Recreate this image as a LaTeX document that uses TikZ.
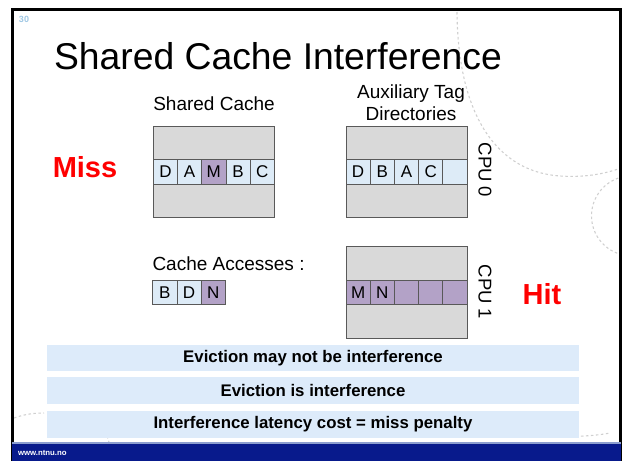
\documentclass[tikz,border=0pt]{standalone}
\usepackage{fontspec}
\setmainfont{Liberation Sans}
\usetikzlibrary{positioning}

\definecolor{cellblue}{RGB}{221,235,247}
\definecolor{cellpurple}{RGB}{179,162,199}
\definecolor{boxgray}{RGB}{217,217,217}
\definecolor{edgegray}{RGB}{89,89,89}
\definecolor{bannerblue}{RGB}{221,235,250}
\definecolor{footnavy}{RGB}{8,26,140}
\definecolor{footline}{RGB}{140,158,208}
\definecolor{pagenum}{RGB}{160,200,228}
\definecolor{decogray}{RGB}{208,208,208}
\definecolor{hitred}{RGB}{255,0,0}

\begin{document}
\begin{tikzpicture}[x=1pt,y=-1pt,
  every node/.style={inner sep=0pt, outer sep=0pt},
  tagbox/.style={draw=edgegray, line width=0.8pt, fill=boxgray,
    minimum width=121pt, minimum height=91.5pt, anchor=north west},
  cellb/.style={draw=edgegray, line width=0.8pt, fill=cellblue,
    minimum width=24.2pt, minimum height=24.6pt,
    font=\fontsize{17}{17}\selectfont},
  cellp/.style={cellb, fill=cellpurple},
  label/.style={font=\fontsize{19}{22}\selectfont, anchor=base},
  verdict/.style={font=\fontsize{29}{30}\selectfont\bfseries, text=hitred, anchor=base},
  cpu/.style={font=\fontsize{18.5}{20}\selectfont, rotate=-90},
  banner/.style={fill=bannerblue, minimum width=532pt, minimum height=26.5pt,
    font=\fontsize{16.8}{18}\selectfont\bfseries},
  deco/.style={draw=decogray, line width=1.1pt, dash pattern=on 2.5pt off 2.5pt}
]
\useasboundingbox (0,0) rectangle (622,461);

% background ornaments of the slide template
\begin{scope}
  \clip (12,9.5) rectangle (620.5,461);
  \draw[deco] (457,12) .. controls (458,120) and (500,172) .. (560,176)
              .. controls (590,178) and (610,172) .. (624,167);
  \draw[deco] (628,176) arc[start angle=-95, end angle=-265, radius=40];
  \draw[deco] (14,418) .. controls (25,414) and (35,413) .. (44,413);
  \draw[deco] (107,436) .. controls (110,445) and (112,452) .. (115,461);
  \draw[deco] (566,437) .. controls (580,436) and (595,436) .. (610,433);
\end{scope}

% slide frame and footer
\draw[line width=3pt] (12.2,461) -- (12.2,9.5) -- (620.5,9.5) -- (620.5,461);
\fill[footnavy] (12.2,443) rectangle (620.5,461);
\fill[footline] (12.2,442.2) rectangle (620.5,444);
\node[anchor=base west, text=white, font=\fontsize{7.8}{8}\selectfont\bfseries]
  (url) at (18,455) {www.ntnu.no};
\node[anchor=base west, text=pagenum, font=\fontsize{9}{10}\selectfont\bfseries]
  (page) at (19,22) {30};

% title and headings
\node[anchor=base west, font=\fontsize{37.3}{40}\selectfont] (title) at (54,69)
  {Shared Cache Interference};
\node[label] (hsc) at (214,110) {Shared Cache};
\node[label] (haux1) at (411,98) {Auxiliary Tag};
\node[label] (haux2) at (411,120) {Directories};

% shared cache
\node[tagbox] (sc) at (153.3,126) {};
\node[cellb, anchor=west] (sc1) at (sc.west) {D};
\node[cellb, right=0pt of sc1] (sc2) {A};
\node[cellp, right=0pt of sc2] (sc3) {M};
\node[cellb, right=0pt of sc3] (sc4) {B};
\node[cellb, right=0pt of sc4] (sc5) {C};

% auxiliary tag directory, CPU 0
\node[tagbox] (atd0) at (346,126) {};
\node[cellb, anchor=west] (a01) at (atd0.west) {D};
\node[cellb, right=0pt of a01] (a02) {B};
\node[cellb, right=0pt of a02] (a03) {A};
\node[cellb, right=0pt of a03] (a04) {C};
\node[cellb, right=0pt of a04] (a05) {};

% auxiliary tag directory, CPU 1
\node[tagbox] (atd1) at (346,246.5) {};
\node[cellp, anchor=west] (a11) at (atd1.west) {M};
\node[cellp, right=0pt of a11] (a12) {N};
\node[cellp, right=0pt of a12] (a13) {};
\node[cellp, right=0pt of a13] (a14) {};
\node[cellp, right=0pt of a14] (a15) {};

\node[cpu] (cpu0) at (485,170) {CPU 0};
\node[cpu] (cpu1) at (485,292) {CPU 1};

% access sequence
\node[label, anchor=base west] (hacc) at (152.5,270) {Cache Accesses :};
\node[cellb, anchor=north west] (ac1) at (152.7,280) {B};
\node[cellb, right=0pt of ac1] (ac2) {D};
\node[cellp, right=0pt of ac2] (ac3) {N};

% outcomes
\node[verdict] (miss) at (85,177) {Miss};
\node[verdict] (hit) at (542,304) {Hit};

% conclusions
\node[banner, anchor=north west] (b1) at (47,344.5) {Eviction may not be interference};
\node[banner, anchor=north west] (b2) at (47,377) {Eviction is interference};
\node[banner, anchor=north west] (b3) at (47,411) {Interference latency cost = miss penalty};
\end{tikzpicture}
\end{document}
